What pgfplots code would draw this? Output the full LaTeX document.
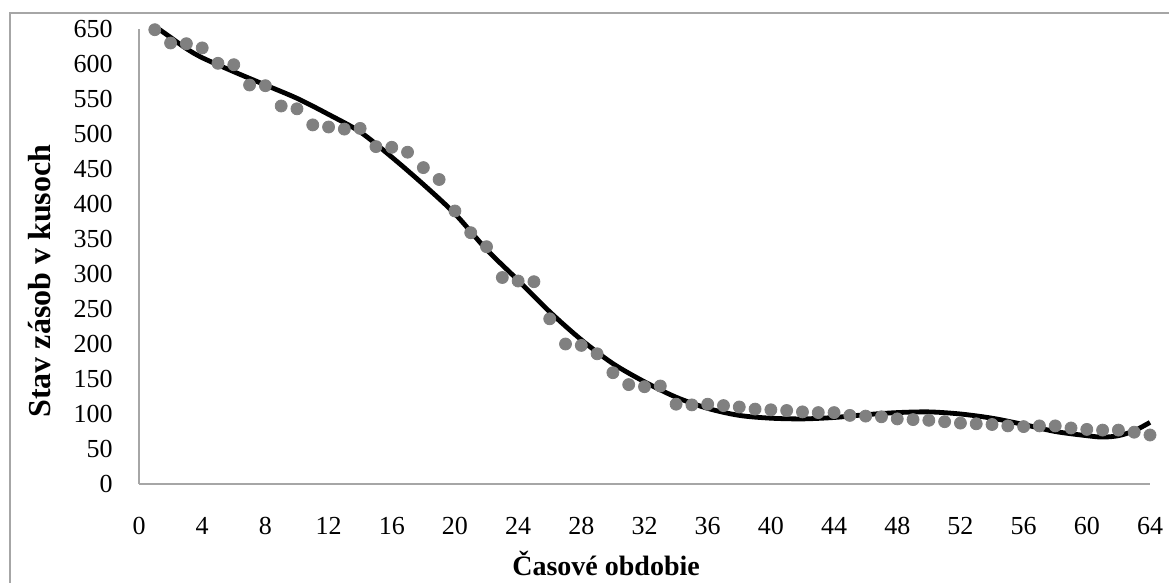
\documentclass[border=0pt]{standalone}
\usepackage{fontspec}
\setmainfont{Liberation Serif}
\usepackage{pgfplots}
\pgfplotsset{compat=1.18}
\definecolor{axgray}{RGB}{166,166,166}
\definecolor{ptgray}{RGB}{128,128,128}
\begin{document}
\begin{tikzpicture}
\path[use as bounding box] (0,0) rectangle (584.5pt,291.5pt);
\draw[axgray,line width=1pt] (5pt,0) -- (5pt,285pt) -- (584.5pt,285pt);
\begin{axis}[at={(69.5pt,49.5pt)},anchor=south west,scale only axis,
  width=505.5pt,height=227.5pt,
  xmin=0,xmax=64,ymin=0,ymax=650,
  xtick={0,4,...,64},ytick={0,50,...,650},
  axis x line=bottom,axis y line=left,
  axis line style={axgray,line width=0.75pt,-},
  major tick length=0pt,
  tick label style={font=\fontsize{13}{15}\selectfont,/pgf/number format/assume math mode=true},
  xticklabel style={anchor=center,yshift=-21pt},
  yticklabel style={anchor=east,inner sep=0pt,xshift=-13pt},
  xlabel={Časové obdobie},ylabel={Stav zásob v kusoch},
  xlabel style={font=\bfseries\fontsize{14}{16}\selectfont,at={(axis description cs:0.462,-0.174)},anchor=center},
  ylabel style={font=\bfseries\fontsize{16}{18}\selectfont,at={(axis description cs:-0.098,0.446)},anchor=center},
  clip=false]
% zasoby
\addplot[only marks,mark=*,mark size=3pt,ptgray,mark options={draw=ptgray,fill=ptgray}] coordinates {
(1,649)(2,630)(3,629)(4,623)(5,601)(6,599)(7,570)(8,569)(9,540)(10,536)
(11,513)(12,510)(13,507)(14,508)(15,482)(16,481)(17,474)(18,452)(19,435)(20,390)
(21,359)(22,339)(23,295)(24,290)(25,289)(26,236)(27,200)(28,198)(29,186)(30,159)
(31,142)(32,139)(33,140)(34,114)(35,113)(36,114)(37,112)(38,110)(39,107)(40,106)
(41,105)(42,103)(43,102)(44,102)(45,98)(46,97)(47,96)(48,93)(49,92)(50,91)
(51,89)(52,87)(53,86)(54,85)(55,83)(56,82)(57,83)(58,83)(59,80)(60,78)
(61,77)(62,77)(63,74)(64,70)};
% trend
\addplot[black,line width=2.4pt,smooth] coordinates {
(1.25,650)(2,638)(3,622)(4,609)(6,589)(8,570)(10,551)(12,528)(14,503)(16,467)
(18,428)(20,386)(22,335)(24,291)(26,246)(28,206)(30,172)(32,146)
(34,124)(36,108)(38,98)(40,94)(42,93)(44,95)(46,99)(48,102)(50,103)(52,100)
(54,94)(56,85)(58,75)(60,69)(61,67)(62,69)(63,76)(64,88)};
\end{axis}
\end{tikzpicture}
\end{document}
